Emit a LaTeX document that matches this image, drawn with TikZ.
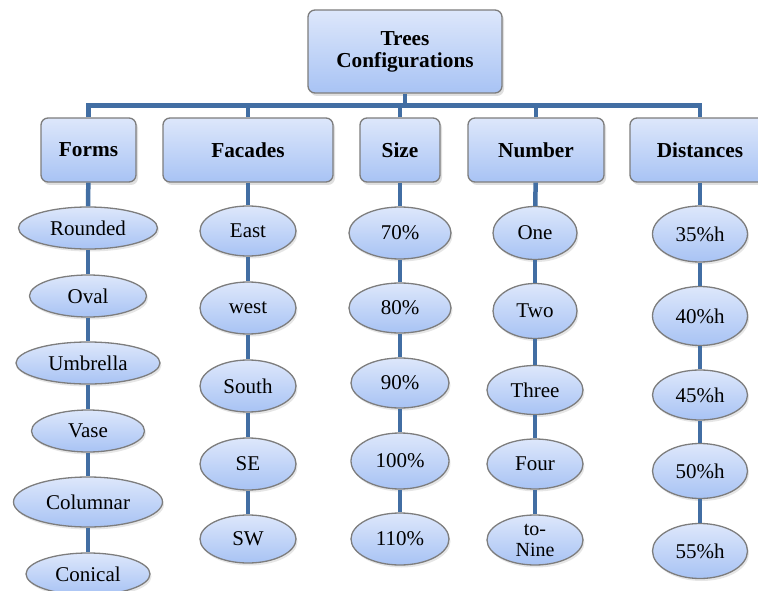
\documentclass[tikz,border=0pt]{standalone}
\usepackage{fontspec}
\setmainfont{Liberation Serif}
\usepackage{tikz}
\usetikzlibrary{shapes.geometric, shadows, positioning}
\usepackage{xcolor}
\definecolor{linkcolor}{RGB}{66,110,163}
\definecolor{boxtop}{RGB}{221,231,251}
\definecolor{boxbot}{RGB}{168,195,244}
\definecolor{edgegray}{RGB}{125,125,125}

\begin{document}
\begin{tikzpicture}[
    x=1pt, y=-1pt,
    box/.style={rectangle, draw=edgegray, line width=1.3pt, rounded corners=7pt, top color=boxtop, bottom color=boxbot, align=center, font=\fontsize{21.3}{22}\selectfont\bfseries, inner sep=0pt, drop shadow={opacity=0.25, shadow xshift=2pt, shadow yshift=-3pt}},
    leaf/.style={ellipse, draw=edgegray, line width=1.3pt, top color=boxtop, bottom color=boxbot, align=center, font=\fontsize{21}{21}\selectfont, inner sep=0pt, minimum height=42, drop shadow={opacity=0.2, shadow xshift=1.5pt, shadow yshift=-2.5pt}},
    link/.style={draw=linkcolor, line width=4.5pt}
]
\useasboundingbox (0,0) rectangle (758,591);

% root and categories
\node[box, minimum width=194, minimum height=83] (root) at (405,51.5) {Trees\\Configurations};
\node[box, minimum width=95, minimum height=64] (forms) at (88.5,150) {Forms};
\node[box, minimum width=170, minimum height=64] (facades) at (248,150) {Facades};
\node[box, minimum width=80, minimum height=64] (size) at (400,150) {Size};
\node[box, minimum width=136, minimum height=64] (number) at (536,150) {Number};
\node[box, minimum width=140, minimum height=64] (dist) at (700,150) {Distances};
\coordinate (bus) at (0,105.5);

% forms
\node[leaf, minimum width=139] (f1) at (88,228) {Rounded};
\node[leaf, minimum width=117] (f2) at (88,296) {Oval};
\node[leaf, minimum width=144] (f3) at (88,363) {Umbrella};
\node[leaf, minimum width=113] (f4) at (88,431) {Vase};
\node[leaf, minimum width=149, minimum height=50] (f5) at (88,502) {Columnar};
\node[leaf, minimum width=124] (f6) at (88,574) {Conical};

% facades
\node[leaf, minimum width=96, minimum height=50] (c1) at (248,231) {East};
\node[leaf, minimum width=96, minimum height=52] (c2) at (248,308) {west};
\node[leaf, minimum width=96, minimum height=52] (c3) at (248,386) {South};
\node[leaf, minimum width=96, minimum height=52] (c4) at (248,464) {SE};
\node[leaf, minimum width=96, minimum height=48] (c5) at (248,539) {SW};

% size
\node[leaf, minimum width=102, minimum height=52] (s1) at (400,233) {70\%};
\node[leaf, minimum width=102, minimum height=50] (s2) at (400,308) {80\%};
\node[leaf, minimum width=98, minimum height=50] (s3) at (400,383) {90\%};
\node[leaf, minimum width=98, minimum height=56] (s4) at (400,461) {100\%};
\node[leaf, minimum width=98, minimum height=52] (s5) at (400,539) {110\%};

% number
\node[leaf, minimum width=84, minimum height=53] (n1) at (535,233) {One};
\node[leaf, minimum width=84, minimum height=55] (n2) at (535,311) {Two};
\node[leaf, minimum width=96, minimum height=49] (n3) at (535,390) {Three};
\node[leaf, minimum width=96, minimum height=50] (n4) at (535,464) {Four};
\node[leaf, minimum width=96, minimum height=50, font=\fontsize{20}{21}\selectfont] (n5) at (535,540) {to-\\Nine};

% distances
\node[leaf, minimum width=95, minimum height=56] (d1) at (700,234) {35\%h};
\node[leaf, minimum width=95, minimum height=59] (d2) at (700,316) {40\%h};
\node[leaf, minimum width=95, minimum height=50] (d3) at (700,395) {45\%h};
\node[leaf, minimum width=95, minimum height=55] (d4) at (700,471) {50\%h};
\node[leaf, minimum width=95, minimum height=55] (d5) at (700,551) {55\%h};

% connectors
\draw[link] (root) -- (root |- bus);
\draw[link] (forms.north) |- (dist |- bus) -- (dist.north);
\draw[link] (facades.north) -- (facades |- bus);
\draw[link] (size.north) -- (size |- bus);
\draw[link] (number.north) -- (number |- bus);
\draw[link] (forms) -- (f1);
\draw[link] (f1) -- (f2);
\draw[link] (f2) -- (f3);
\draw[link] (f3) -- (f4);
\draw[link] (f4) -- (f5);
\draw[link] (f5) -- (f6);
\draw[link] (facades) -- (c1);
\draw[link] (c1) -- (c2);
\draw[link] (c2) -- (c3);
\draw[link] (c3) -- (c4);
\draw[link] (c4) -- (c5);
\draw[link] (size) -- (s1);
\draw[link] (s1) -- (s2);
\draw[link] (s2) -- (s3);
\draw[link] (s3) -- (s4);
\draw[link] (s4) -- (s5);
\draw[link] (number) -- (n1);
\draw[link] (n1) -- (n2);
\draw[link] (n2) -- (n3);
\draw[link] (n3) -- (n4);
\draw[link] (n4) -- (n5);
\draw[link] (dist) -- (d1);
\draw[link] (d1) -- (d2);
\draw[link] (d2) -- (d3);
\draw[link] (d3) -- (d4);
\draw[link] (d4) -- (d5);
\end{tikzpicture}
\end{document}
